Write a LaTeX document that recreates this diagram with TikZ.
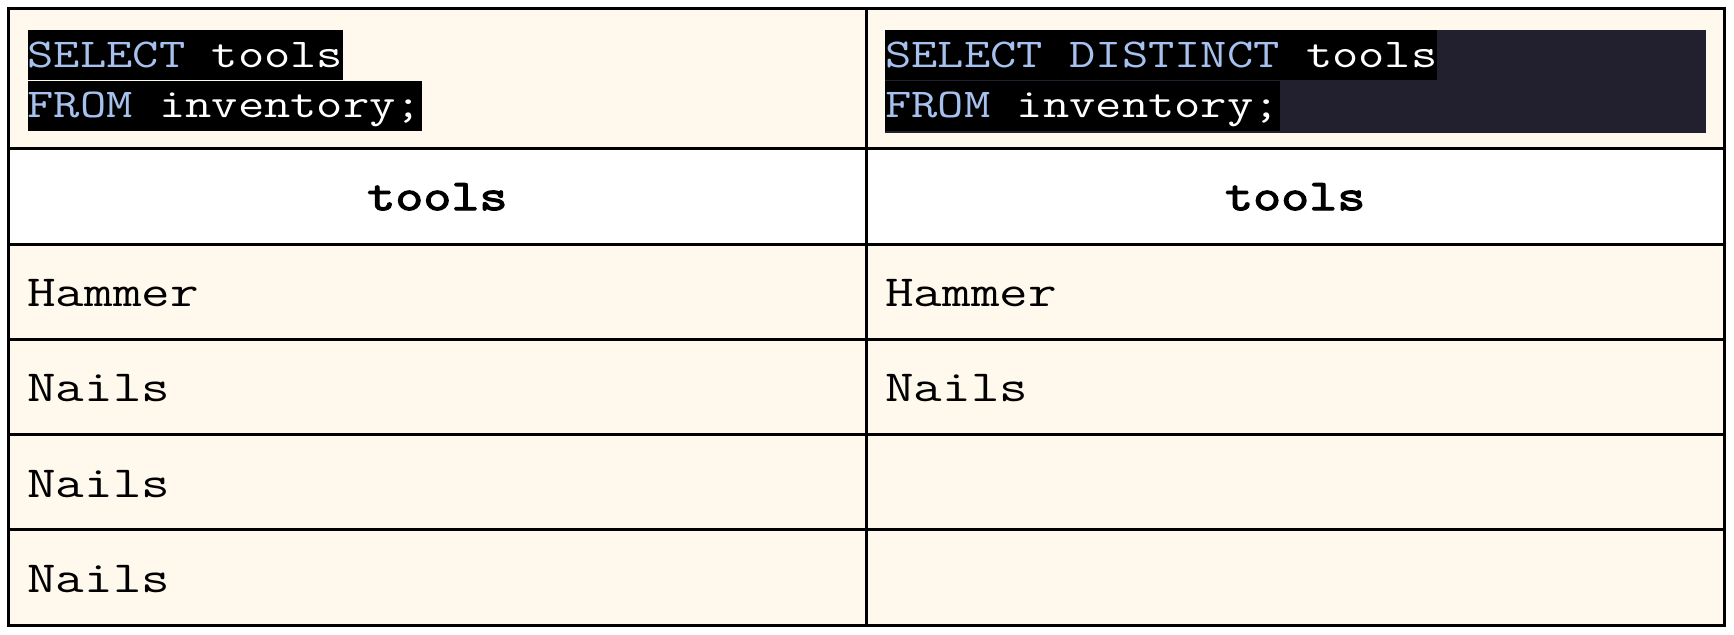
\documentclass[tikz,border=0pt]{standalone}
\usepackage{fontspec}
\newfontfamily\codefont[FakeStretch=1.245]{Latin Modern Mono}
\newfontfamily\cellfont[FakeStretch=1.25]{Latin Modern Mono}
\newfontfamily\headfont[FakeStretch=1.25,FakeBold=3]{Latin Modern Mono}
\usetikzlibrary{positioning}
\definecolor{cream}{HTML}{FFF8EC}
\definecolor{kwblue}{HTML}{A6C1EE}
\definecolor{codebg}{HTML}{22202E}
\begin{document}
\begin{tikzpicture}[
        x=0.5pt, y=-0.5pt,
        grid/.style={draw=black, line width=1.5pt},
        codeline/.style={fill=black, text=white, inner sep=0pt, anchor=north west,
            text height=18.35pt, text depth=6.65pt, font=\codefont\fontsize{20.5}{25}\selectfont},
        cell/.style={anchor=base west, inner sep=0pt, font=\cellfont\fontsize{22.2}{27}\selectfont},
        head/.style={anchor=base, inner sep=0pt, font=\headfont\fontsize{21.8}{27}\selectfont},
    ]
    \useasboundingbox (0,0) rectangle (1734,634);
    \fill[cream] (8.75,8.75) rectangle (1724.5,625.5);
    \fill[white] (8.75,148.5) rectangle (1724.5,244.5);
    \fill[codebg] (885,30) rectangle (1706,132.7);

    \node[codeline](sel) at (27.3,30){\textcolor{kwblue}{SELECT} tools};
    \node[codeline](from) at (sel.south west){\textcolor{kwblue}{FROM} inventory;};
    \node[codeline](seld) at (885,30){\textcolor{kwblue}{SELECT DISTINCT} tools};
    \node[codeline](fromd) at (seld.south west){\textcolor{kwblue}{FROM} inventory;};

    \node[head](lhead) at (437.4,210){tools};
    \node[head](rhead) at (1295.2,210){tools};

    \foreach \y/\t [count=\i] in {306/Hammer, 401.5/Nails, 497/Nails, 592/Nails}
        \node[cell](l\i) at (27,\y){\t};
    \node[cell](r1) at (885,306){Hammer};
    \node[cell](r2) at (885,401.5){Nails};

    \draw[grid] (8.75,8.75) rectangle (1724.5,625.5);
    \draw[grid] (866,8.75) -- (866,625.5);
    \foreach \y in {148.5, 244.5, 339, 434, 529.5}
        \draw[grid] (8.75,\y) -- (1724.5,\y);
\end{tikzpicture}
\end{document}
